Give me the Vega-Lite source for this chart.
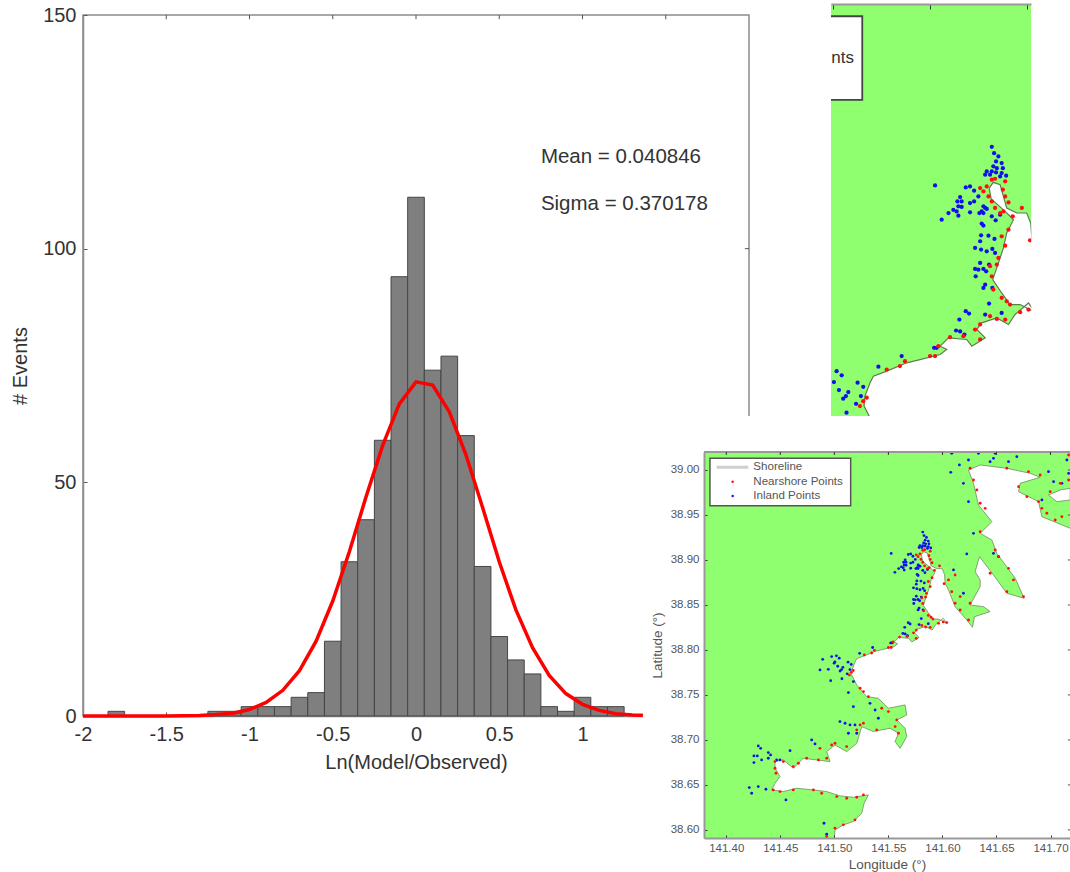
{
"$schema":"https://vega.github.io/schema/vega-lite/v6.json",
"autosize":{"type":"none"},
"padding":{"left":83,"top":15,"right":321,"bottom":156},
"width":666,"height":701,
"background":"white",
"config":{"view":{"stroke":"#8c8c8c","strokeWidth":1.5},"font":"Liberation Sans"},
"datasets":{
"bars":[
{"b0":-1.85,"b1":-1.75,"n":1},{"b0":-1.25,"b1":-1.15,"n":1},{"b0":-1.15,"b1":-1.05,"n":1},{"b0":-1.05,"b1":-0.95,"n":2},{"b0":-0.95,"b1":-0.85,"n":2},{"b0":-0.85,"b1":-0.75,"n":2},{"b0":-0.75,"b1":-0.65,"n":4},{"b0":-0.65,"b1":-0.55,"n":5},{"b0":-0.55,"b1":-0.45,"n":16},{"b0":-0.45,"b1":-0.35,"n":33},{"b0":-0.35,"b1":-0.25,"n":42},{"b0":-0.25,"b1":-0.15,"n":59},{"b0":-0.15,"b1":-0.05,"n":94},{"b0":-0.05,"b1":0.05,"n":111},{"b0":0.05,"b1":0.15,"n":74},{"b0":0.15,"b1":0.25,"n":77},{"b0":0.25,"b1":0.35,"n":60},{"b0":0.35,"b1":0.45,"n":32},{"b0":0.45,"b1":0.55,"n":17},{"b0":0.55,"b1":0.65,"n":12},{"b0":0.65,"b1":0.75,"n":9},{"b0":0.75,"b1":0.85,"n":2},{"b0":0.85,"b1":0.95,"n":1},{"b0":0.95,"b1":1.05,"n":4},{"b0":1.05,"b1":1.15,"n":2},{"b0":1.15,"b1":1.25,"n":2}
],
"curve":[
{"x":-2,"y":0},{"x":-1.5,"y":0},{"x":-1.3,"y":0.1},{"x":-1.2,"y":0.3},{"x":-1.1,"y":0.6},{"x":-1.0,"y":1.4},{"x":-0.9,"y":2.9},{"x":-0.8,"y":5.5},{"x":-0.7,"y":9.7},{"x":-0.6,"y":16},{"x":-0.5,"y":24.6},{"x":-0.4,"y":35.2},{"x":-0.3,"y":46.9},{"x":-0.2,"y":57.9},{"x":-0.1,"y":66.8},{"x":0,"y":71.5},{"x":0.1,"y":70.8},{"x":0.2,"y":65.1},{"x":0.3,"y":55.9},{"x":0.4,"y":44.6},{"x":0.5,"y":33},{"x":0.6,"y":22.7},{"x":0.7,"y":14.6},{"x":0.8,"y":8.7},{"x":0.9,"y":4.8},{"x":1.0,"y":2.5},{"x":1.1,"y":1.2},{"x":1.2,"y":0.5},{"x":1.3,"y":0.2},{"x":1.4,"y":0.1}
],
"notes":[{"x":0.75,"y":119.6,"t":"Mean = 0.040846"},{"x":0.75,"y":109.6,"t":"Sigma = 0.370178"}],
"frameTicksTop":[{"x":-1.5},{"x":-1},{"x":-0.5},{"x":0},{"x":0.5},{"x":1},{"x":1.5}],
"mapTicks":[{"lon":141.4},{"lon":141.45},{"lon":141.5},{"lon":141.55},{"lon":141.6},{"lon":141.65},{"lon":141.7}],
"mapTicksRight":[{"lat":38.6},{"lat":38.65},{"lat":38.7},{"lat":38.75},{"lat":38.8},{"lat":38.85},{"lat":38.9},{"lat":38.95},{"lat":39.0}],
"coast":[
{"r":"main","lon":141.5,"lat":38.5907},{"r":"main","lon":141.5006,"lat":38.6},{"r":"main","lon":141.5083,"lat":38.6056},{"r":"main","lon":141.5176,"lat":38.6093},{"r":"main","lon":141.5253,"lat":38.6185},{"r":"main","lon":141.5275,"lat":38.6296},{"r":"main","lon":141.5315,"lat":38.6389},{"r":"main","lon":141.5176,"lat":38.6363},{"r":"main","lon":141.5052,"lat":38.6378},{"r":"main","lon":141.4929,"lat":38.6426},{"r":"main","lon":141.4806,"lat":38.6444},{"r":"main","lon":141.4651,"lat":38.6463},{"r":"main","lon":141.4528,"lat":38.6426},{"r":"main","lon":141.442,"lat":38.6444},{"r":"main","lon":141.4451,"lat":38.6519},{"r":"main","lon":141.4497,"lat":38.6593},{"r":"main","lon":141.4451,"lat":38.6685},{"r":"main","lon":141.4451,"lat":38.6759},{"r":"main","lon":141.4528,"lat":38.6778},{"r":"main","lon":141.462,"lat":38.6685},{"r":"main","lon":141.4713,"lat":38.6796},{"r":"main","lon":141.4836,"lat":38.6778},{"r":"main","lon":141.496,"lat":38.6759},{"r":"main","lon":141.4929,"lat":38.687},{"r":"main","lon":141.5006,"lat":38.6944},{"r":"main","lon":141.5114,"lat":38.687},{"r":"main","lon":141.5207,"lat":38.6963},{"r":"main","lon":141.5253,"lat":38.7148},{"r":"main","lon":141.5361,"lat":38.7093},{"r":"main","lon":141.5515,"lat":38.713},{"r":"main","lon":141.5593,"lat":38.7074},{"r":"main","lon":141.5562,"lat":38.6981},{"r":"main","lon":141.5608,"lat":38.6907},{"r":"main","lon":141.567,"lat":38.7037},{"r":"main","lon":141.5654,"lat":38.713},{"r":"main","lon":141.5577,"lat":38.7222},{"r":"main","lon":141.567,"lat":38.7278},{"r":"main","lon":141.5654,"lat":38.7389},{"r":"main","lon":141.55,"lat":38.7352},{"r":"main","lon":141.5407,"lat":38.7463},{"r":"main","lon":141.5299,"lat":38.7481},{"r":"main","lon":141.5207,"lat":38.7611},{"r":"main","lon":141.516,"lat":38.7722},{"r":"main","lon":141.5165,"lat":38.7782},{"r":"main","lon":141.5191,"lat":38.7864},{"r":"main","lon":141.5208,"lat":38.7904},{"r":"main","lon":141.5277,"lat":38.7935},{"r":"main","lon":141.538,"lat":38.7986},{"r":"main","lon":141.5448,"lat":38.8006},{"r":"main","lon":141.5552,"lat":38.8037},{"r":"main","lon":141.5586,"lat":38.8068},{"r":"main","lon":141.5552,"lat":38.8088},{"r":"main","lon":141.5595,"lat":38.8139},{"r":"main","lon":141.5689,"lat":38.8129},{"r":"main","lon":141.5715,"lat":38.8088},{"r":"main","lon":141.5784,"lat":38.8139},{"r":"main","lon":141.5741,"lat":38.819},{"r":"main","lon":141.5766,"lat":38.8231},{"r":"main","lon":141.5844,"lat":38.8261},{"r":"main","lon":141.5904,"lat":38.8221},{"r":"main","lon":141.5938,"lat":38.8282},{"r":"main","lon":141.6007,"lat":38.8353},{"r":"main","lon":141.604,"lat":38.8296},{"r":"main","lon":141.5964,"lat":38.8343},{"r":"main","lon":141.5912,"lat":38.8343},{"r":"main","lon":141.5869,"lat":38.8414},{"r":"main","lon":141.5823,"lat":38.8496},{"r":"main","lon":141.5852,"lat":38.8598},{"r":"main","lon":141.5878,"lat":38.869},{"r":"main","lon":141.5895,"lat":38.8782},{"r":"main","lon":141.593,"lat":38.8863},{"r":"main","lon":141.5887,"lat":38.8914},{"r":"main","lon":141.5815,"lat":38.899},{"r":"main","lon":141.5805,"lat":38.9057},{"r":"main","lon":141.5826,"lat":38.9092},{"r":"main","lon":141.5861,"lat":38.9077},{"r":"main","lon":141.5878,"lat":38.9006},{"r":"main","lon":141.5895,"lat":38.8935},{"r":"main","lon":141.5947,"lat":38.8904},{"r":"main","lon":141.5998,"lat":38.8904},{"r":"main","lon":141.6019,"lat":38.8839},{"r":"main","lon":141.6025,"lat":38.8741},{"r":"main","lon":141.6056,"lat":38.8667},{"r":"main","lon":141.6117,"lat":38.8481},{"r":"main","lon":141.6225,"lat":38.8333},{"r":"main","lon":141.6278,"lat":38.8252},{"r":"main","lon":141.6296,"lat":38.837},{"r":"main","lon":141.6441,"lat":38.8426},{"r":"main","lon":141.638,"lat":38.8481},{"r":"main","lon":141.6256,"lat":38.85},{"r":"main","lon":141.6349,"lat":38.8704},{"r":"main","lon":141.6349,"lat":38.8778},{"r":"main","lon":141.6302,"lat":38.887},{"r":"main","lon":141.6343,"lat":38.9037},{"r":"main","lon":141.6472,"lat":38.8833},{"r":"main","lon":141.6596,"lat":38.863},{"r":"main","lon":141.6756,"lat":38.8574},{"r":"main","lon":141.6673,"lat":38.8796},{"r":"main","lon":141.6503,"lat":38.9074},{"r":"main","lon":141.6457,"lat":38.9222},{"r":"main","lon":141.6349,"lat":38.9296},{"r":"main","lon":141.6457,"lat":38.9426},{"r":"main","lon":141.6333,"lat":38.9611},{"r":"main","lon":141.6287,"lat":38.9852},{"r":"main","lon":141.6241,"lat":39.0},{"r":"main","lon":141.6349,"lat":39.0056},{"r":"main","lon":141.6596,"lat":39.0019},{"r":"main","lon":141.6812,"lat":38.9963},{"r":"main","lon":141.6904,"lat":38.9919},{"r":"main","lon":141.6719,"lat":38.9852},{"r":"main","lon":141.6704,"lat":38.9759},{"r":"main","lon":141.6889,"lat":38.9648},{"r":"main","lon":141.692,"lat":38.9481},{"r":"main","lon":141.7182,"lat":38.9352},
{"r":"main","lon":141.72,"lat":38.9352,"edge":1},{"r":"main","lon":141.72,"lat":38.59,"edge":1},{"r":"main","lon":141.5,"lat":38.59,"edge":1},{"r":"main","lon":141.5,"lat":38.5907,"edge":1},
{"r":"bay","lon":141.6981,"lat":38.9722},{"r":"bay","lon":141.709,"lat":38.9778},{"r":"bay","lon":141.7182,"lat":38.9796},{"r":"bay","lon":141.7182,"lat":38.9667},{"r":"bay","lon":141.7059,"lat":38.9648},{"r":"bay","lon":141.6981,"lat":38.9722}
],
"points":[
{"lon":141.5818,"lat":38.931,"k":"Inland"},{"lon":141.583,"lat":38.9271,"k":"Inland"},{"lon":141.5852,"lat":38.9251,"k":"Inland"},{"lon":141.584,"lat":38.922,"k":"Inland"},{"lon":141.5869,"lat":38.921,"k":"Inland"},{"lon":141.5826,"lat":38.919,"k":"Inland"},{"lon":141.5844,"lat":38.9179,"k":"Inland"},{"lon":141.5875,"lat":38.9179,"k":"Inland"},{"lon":141.5792,"lat":38.9159,"k":"Inland"},{"lon":141.5818,"lat":38.9159,"k":"Inland"},{"lon":141.584,"lat":38.9153,"k":"Inland"},{"lon":141.5869,"lat":38.9149,"k":"Inland"},{"lon":141.5892,"lat":38.9133,"k":"Inland"},{"lon":141.5784,"lat":38.9139,"k":"Inland"},{"lon":141.5809,"lat":38.9139,"k":"Inland"},{"lon":141.5861,"lat":38.9128,"k":"Inland"},{"lon":141.5526,"lat":38.9073,"k":"Inland"},{"lon":141.5684,"lat":38.9061,"k":"Inland"},{"lon":141.5706,"lat":38.9067,"k":"Inland"},{"lon":141.5727,"lat":38.9041,"k":"Inland"},{"lon":141.5749,"lat":38.9006,"k":"Inland"},{"lon":141.5655,"lat":38.9002,"k":"Inland"},{"lon":141.5641,"lat":38.8975,"k":"Inland"},{"lon":141.5663,"lat":38.8975,"k":"Inland"},{"lon":141.5727,"lat":38.8975,"k":"Inland"},{"lon":141.5706,"lat":38.8965,"k":"Inland"},{"lon":141.5646,"lat":38.8945,"k":"Inland"},{"lon":141.5663,"lat":38.8941,"k":"Inland"},{"lon":141.562,"lat":38.8924,"k":"Inland"},{"lon":141.5595,"lat":38.8904,"k":"Inland"},{"lon":141.5637,"lat":38.8914,"k":"Inland"},{"lon":141.5646,"lat":38.8888,"k":"Inland"},{"lon":141.556,"lat":38.8863,"k":"Inland"},{"lon":141.5706,"lat":38.8908,"k":"Inland"},{"lon":141.5775,"lat":38.8945,"k":"Inland"},{"lon":141.5784,"lat":38.8935,"k":"Inland"},{"lon":141.5766,"lat":38.8914,"k":"Inland"},{"lon":141.5754,"lat":38.8904,"k":"Inland"},{"lon":141.5775,"lat":38.8904,"k":"Inland"},{"lon":141.5792,"lat":38.8929,"k":"Inland"},{"lon":141.5818,"lat":38.8884,"k":"Inland"},{"lon":141.5861,"lat":38.8894,"k":"Inland"},{"lon":141.5838,"lat":38.8859,"k":"Inland"},{"lon":141.5766,"lat":38.8839,"k":"Inland"},{"lon":141.5775,"lat":38.8827,"k":"Inland"},{"lon":141.5763,"lat":38.8767,"k":"Inland"},{"lon":141.5801,"lat":38.8765,"k":"Inland"},{"lon":141.5832,"lat":38.8745,"k":"Inland"},{"lon":141.5758,"lat":38.8731,"k":"Inland"},{"lon":141.5732,"lat":38.869,"k":"Inland"},{"lon":141.5763,"lat":38.868,"k":"Inland"},{"lon":141.5792,"lat":38.8669,"k":"Inland"},{"lon":141.5821,"lat":38.8684,"k":"Inland"},{"lon":141.5835,"lat":38.8659,"k":"Inland"},{"lon":141.5758,"lat":38.8598,"k":"Inland"},{"lon":141.5804,"lat":38.8588,"k":"Inland"},{"lon":141.5775,"lat":38.8561,"k":"Inland"},{"lon":141.5732,"lat":38.8561,"k":"Inland"},{"lon":141.5749,"lat":38.8557,"k":"Inland"},{"lon":141.5789,"lat":38.8547,"k":"Inland"},{"lon":141.5735,"lat":38.8516,"k":"Inland"},{"lon":141.5784,"lat":38.8465,"k":"Inland"},{"lon":141.5775,"lat":38.8445,"k":"Inland"},{"lon":141.5821,"lat":38.8445,"k":"Inland"},{"lon":141.5804,"lat":38.8349,"k":"Inland"},{"lon":141.5684,"lat":38.8302,"k":"Inland"},{"lon":141.5701,"lat":38.8288,"k":"Inland"},{"lon":141.5784,"lat":38.8282,"k":"Inland"},{"lon":141.5869,"lat":38.8292,"k":"Inland"},{"lon":141.5651,"lat":38.8251,"k":"Inland"},{"lon":141.5634,"lat":38.8184,"k":"Inland"},{"lon":141.5655,"lat":38.8178,"k":"Inland"},{"lon":141.5677,"lat":38.8159,"k":"Inland"},{"lon":141.5534,"lat":38.8078,"k":"Inland"},{"lon":141.5521,"lat":38.8078,"k":"Inland"},{"lon":141.5354,"lat":38.8027,"k":"Inland"},{"lon":141.5234,"lat":38.7962,"k":"Inland"},{"lon":141.5019,"lat":38.7935,"k":"Inland"},{"lon":141.5045,"lat":38.7909,"k":"Inland"},{"lon":141.5005,"lat":38.7868,"k":"Inland"},{"lon":141.4998,"lat":38.7853,"k":"Inland"},{"lon":141.5127,"lat":38.7864,"k":"Inland"},{"lon":141.5156,"lat":38.7839,"k":"Inland"},{"lon":141.5031,"lat":38.7819,"k":"Inland"},{"lon":141.5079,"lat":38.7807,"k":"Inland"},{"lon":141.5067,"lat":38.7782,"k":"Inland"},{"lon":141.5053,"lat":38.7766,"k":"Inland"},{"lon":141.5144,"lat":38.7782,"k":"Inland"},{"lon":141.5119,"lat":38.7735,"k":"Inland"},{"lon":141.507,"lat":38.768,"k":"Inland"},
{"lon":141.6086,"lat":39.0185,"k":"Inland"},{"lon":141.6333,"lat":39.0185,"k":"Inland"},{"lon":141.6488,"lat":39.0185,"k":"Inland"},{"lon":141.6472,"lat":39.013,"k":"Inland"},{"lon":141.6441,"lat":39.0093,"k":"Inland"},{"lon":141.6611,"lat":39.0093,"k":"Inland"},{"lon":141.6688,"lat":39.0148,"k":"Inland"},{"lon":141.6157,"lat":39.0056,"k":"Inland"},{"lon":141.6241,"lat":39.0111,"k":"Inland"},{"lon":141.6077,"lat":38.9974,"k":"Inland"},{"lon":141.6194,"lat":38.9852,"k":"Inland"},{"lon":141.6241,"lat":38.9648,"k":"Inland"},{"lon":141.692,"lat":38.9667,"k":"Inland"},{"lon":141.6981,"lat":38.9981,"k":"Inland"},{"lon":141.7028,"lat":38.987,"k":"Inland"},{"lon":141.7151,"lat":39.0111,"k":"Inland"},{"lon":141.7167,"lat":38.9963,"k":"Inland"},{"lon":141.7105,"lat":38.9852,"k":"Inland"},{"lon":141.6287,"lat":38.9296,"k":"Inland"},{"lon":141.6225,"lat":38.9067,"k":"Inland"},{"lon":141.6472,"lat":38.9074,"k":"Inland"},{"lon":141.6519,"lat":38.9037,"k":"Inland"},{"lon":141.6194,"lat":38.863,"k":"Inland"},{"lon":141.6102,"lat":38.8889,"k":"Inland"},
{"lon":141.4892,"lat":38.7896,"k":"Inland"},{"lon":141.4867,"lat":38.7778,"k":"Inland"},{"lon":141.4975,"lat":38.7926,"k":"Inland"},{"lon":141.4944,"lat":38.7785,"k":"Inland"},{"lon":141.4966,"lat":38.7659,"k":"Inland"},{"lon":141.5176,"lat":38.7648,"k":"Inland"},{"lon":141.513,"lat":38.7526,"k":"Inland"},{"lon":141.5176,"lat":38.737,"k":"Inland"},{"lon":141.533,"lat":38.7407,"k":"Inland"},{"lon":141.5377,"lat":38.7333,"k":"Inland"},{"lon":141.5407,"lat":38.7241,"k":"Inland"},{"lon":141.5052,"lat":38.7204,"k":"Inland"},{"lon":141.5099,"lat":38.7185,"k":"Inland"},{"lon":141.5145,"lat":38.7167,"k":"Inland"},{"lon":141.5191,"lat":38.7167,"k":"Inland"},{"lon":141.513,"lat":38.7074,"k":"Inland"},{"lon":141.5207,"lat":38.7074,"k":"Inland"},{"lon":141.479,"lat":38.7,"k":"Inland"},{"lon":141.4821,"lat":38.6956,"k":"Inland"},{"lon":141.459,"lat":38.6881,"k":"Inland"},{"lon":141.4296,"lat":38.6933,"k":"Inland"},{"lon":141.4318,"lat":38.6907,"k":"Inland"},{"lon":141.4256,"lat":38.6822,"k":"Inland"},{"lon":141.4287,"lat":38.6822,"k":"Inland"},{"lon":141.4327,"lat":38.6778,"k":"Inland"},{"lon":141.4389,"lat":38.6859,"k":"Inland"},{"lon":141.441,"lat":38.6833,"k":"Inland"},{"lon":141.4256,"lat":38.6748,"k":"Inland"},{"lon":141.4389,"lat":38.6796,"k":"Inland"},{"lon":141.4466,"lat":38.6778,"k":"Inland"},{"lon":141.4497,"lat":38.6778,"k":"Inland"},{"lon":141.4213,"lat":38.647,"k":"Inland"},{"lon":141.4296,"lat":38.6481,"k":"Inland"},{"lon":141.4367,"lat":38.6452,"k":"Inland"},{"lon":141.4235,"lat":38.6407,"k":"Inland"},{"lon":141.4552,"lat":38.6333,"k":"Inland"},{"lon":141.4904,"lat":38.6074,"k":"Inland"},{"lon":141.4929,"lat":38.5952,"k":"Inland"},
{"lon":141.5818,"lat":38.9108,"k":"Nearshore"},{"lon":141.5835,"lat":38.9114,"k":"Nearshore"},{"lon":141.5792,"lat":38.9067,"k":"Nearshore"},{"lon":141.5758,"lat":38.9057,"k":"Nearshore"},{"lon":141.5775,"lat":38.9037,"k":"Nearshore"},{"lon":141.5801,"lat":38.9006,"k":"Nearshore"},{"lon":141.5818,"lat":38.8975,"k":"Nearshore"},{"lon":141.5835,"lat":38.8935,"k":"Nearshore"},{"lon":141.5878,"lat":38.8914,"k":"Nearshore"},{"lon":141.5861,"lat":38.8904,"k":"Nearshore"},{"lon":141.5904,"lat":38.8969,"k":"Nearshore"},{"lon":141.5887,"lat":38.9006,"k":"Nearshore"},{"lon":141.5875,"lat":38.9047,"k":"Nearshore"},{"lon":141.5887,"lat":38.9098,"k":"Nearshore"},{"lon":141.5973,"lat":38.8935,"k":"Nearshore"},{"lon":141.5926,"lat":38.8884,"k":"Nearshore"},{"lon":141.5904,"lat":38.8802,"k":"Nearshore"},{"lon":141.5869,"lat":38.8761,"k":"Nearshore"},{"lon":141.5887,"lat":38.8704,"k":"Nearshore"},{"lon":141.5852,"lat":38.8629,"k":"Nearshore"},{"lon":141.5844,"lat":38.8588,"k":"Nearshore"},{"lon":141.5809,"lat":38.8578,"k":"Nearshore"},{"lon":141.5818,"lat":38.8516,"k":"Nearshore"},{"lon":141.5826,"lat":38.8435,"k":"Nearshore"},{"lon":141.5869,"lat":38.8384,"k":"Nearshore"},{"lon":141.5895,"lat":38.8363,"k":"Nearshore"},{"lon":141.5912,"lat":38.8343,"k":"Nearshore"},{"lon":141.5964,"lat":38.8296,"k":"Nearshore"},{"lon":141.6007,"lat":38.8312,"k":"Nearshore"},{"lon":141.6015,"lat":38.8737,"k":"Nearshore"},{"lon":141.5809,"lat":38.8272,"k":"Nearshore"},{"lon":141.5844,"lat":38.8255,"k":"Nearshore"},{"lon":141.5887,"lat":38.8251,"k":"Nearshore"},{"lon":141.5758,"lat":38.8221,"k":"Nearshore"},{"lon":141.5732,"lat":38.819,"k":"Nearshore"},{"lon":141.5758,"lat":38.8129,"k":"Nearshore"},{"lon":141.5672,"lat":38.8149,"k":"Nearshore"},{"lon":141.5603,"lat":38.8143,"k":"Nearshore"},{"lon":141.5543,"lat":38.8088,"k":"Nearshore"},{"lon":141.55,"lat":38.8027,"k":"Nearshore"},{"lon":141.5526,"lat":38.8027,"k":"Nearshore"},{"lon":141.5371,"lat":38.7996,"k":"Nearshore"},{"lon":141.5345,"lat":38.7966,"k":"Nearshore"},{"lon":141.5277,"lat":38.7945,"k":"Nearshore"},{"lon":141.5174,"lat":38.7772,"k":"Nearshore"},{"lon":141.5156,"lat":38.7751,"k":"Nearshore"},{"lon":141.5139,"lat":38.7721,"k":"Nearshore"},
{"lon":141.6256,"lat":39.0019,"k":"Nearshore"},{"lon":141.6287,"lat":38.9889,"k":"Nearshore"},{"lon":141.6318,"lat":38.9778,"k":"Nearshore"},{"lon":141.6349,"lat":38.963,"k":"Nearshore"},{"lon":141.6395,"lat":38.9574,"k":"Nearshore"},{"lon":141.6349,"lat":38.9315,"k":"Nearshore"},{"lon":141.6488,"lat":38.9111,"k":"Nearshore"},{"lon":141.6519,"lat":38.9037,"k":"Nearshore"},{"lon":141.6611,"lat":38.8907,"k":"Nearshore"},{"lon":141.6657,"lat":38.8778,"k":"Nearshore"},{"lon":141.6596,"lat":38.8648,"k":"Nearshore"},{"lon":141.675,"lat":38.8593,"k":"Nearshore"},{"lon":141.6441,"lat":38.8852,"k":"Nearshore"},{"lon":141.6596,"lat":39.0019,"k":"Nearshore"},{"lon":141.6796,"lat":38.9981,"k":"Nearshore"},{"lon":141.6904,"lat":38.9944,"k":"Nearshore"},{"lon":141.6704,"lat":38.9815,"k":"Nearshore"},{"lon":141.6781,"lat":38.9704,"k":"Nearshore"},{"lon":141.6889,"lat":38.9648,"k":"Nearshore"},{"lon":141.6966,"lat":38.9519,"k":"Nearshore"},{"lon":141.7043,"lat":38.9444,"k":"Nearshore"},{"lon":141.7105,"lat":38.9481,"k":"Nearshore"},{"lon":141.6997,"lat":38.9759,"k":"Nearshore"},{"lon":141.709,"lat":38.9852,"k":"Nearshore"},{"lon":141.7167,"lat":38.9889,"k":"Nearshore"},{"lon":141.7167,"lat":39.0167,"k":"Nearshore"},{"lon":141.692,"lat":38.9574,"k":"Nearshore"},{"lon":141.6117,"lat":38.8833,"k":"Nearshore"},{"lon":141.6056,"lat":38.8778,"k":"Nearshore"},{"lon":141.6086,"lat":38.8648,"k":"Nearshore"},{"lon":141.6164,"lat":38.8593,"k":"Nearshore"},{"lon":141.6117,"lat":38.8519,"k":"Nearshore"},{"lon":141.6164,"lat":38.8444,"k":"Nearshore"},{"lon":141.6256,"lat":38.8519,"k":"Nearshore"},{"lon":141.6241,"lat":38.8333,"k":"Nearshore"},{"lon":141.604,"lat":38.8304,"k":"Nearshore"},
{"lon":141.5238,"lat":38.7574,"k":"Nearshore"},{"lon":141.5269,"lat":38.7537,"k":"Nearshore"},{"lon":141.5315,"lat":38.7481,"k":"Nearshore"},{"lon":141.5438,"lat":38.7352,"k":"Nearshore"},{"lon":141.55,"lat":38.7315,"k":"Nearshore"},{"lon":141.5577,"lat":38.7222,"k":"Nearshore"},{"lon":141.5593,"lat":38.7074,"k":"Nearshore"},{"lon":141.5562,"lat":38.7148,"k":"Nearshore"},{"lon":141.5238,"lat":38.7167,"k":"Nearshore"},{"lon":141.5269,"lat":38.7185,"k":"Nearshore"},{"lon":141.5207,"lat":38.7111,"k":"Nearshore"},{"lon":141.5392,"lat":38.7111,"k":"Nearshore"},{"lon":141.5114,"lat":38.6926,"k":"Nearshore"},{"lon":141.5006,"lat":38.6963,"k":"Nearshore"},{"lon":141.4975,"lat":38.6944,"k":"Nearshore"},{"lon":141.4867,"lat":38.6907,"k":"Nearshore"},{"lon":141.4929,"lat":38.6796,"k":"Nearshore"},{"lon":141.4852,"lat":38.6778,"k":"Nearshore"},{"lon":141.4744,"lat":38.6796,"k":"Nearshore"},{"lon":141.4667,"lat":38.6741,"k":"Nearshore"},{"lon":141.462,"lat":38.6704,"k":"Nearshore"},{"lon":141.4528,"lat":38.6759,"k":"Nearshore"},{"lon":141.4451,"lat":38.6759,"k":"Nearshore"},{"lon":141.4451,"lat":38.6685,"k":"Nearshore"},{"lon":141.446,"lat":38.663,"k":"Nearshore"},{"lon":141.4435,"lat":38.6444,"k":"Nearshore"},{"lon":141.4497,"lat":38.6426,"k":"Nearshore"},{"lon":141.462,"lat":38.6444,"k":"Nearshore"},{"lon":141.4806,"lat":38.6444,"k":"Nearshore"},{"lon":141.4883,"lat":38.6407,"k":"Nearshore"},{"lon":141.5022,"lat":38.637,"k":"Nearshore"},{"lon":141.5114,"lat":38.6352,"k":"Nearshore"},{"lon":141.5207,"lat":38.6363,"k":"Nearshore"},{"lon":141.5269,"lat":38.6389,"k":"Nearshore"},{"lon":141.5191,"lat":38.6111,"k":"Nearshore"},{"lon":141.5083,"lat":38.6056,"k":"Nearshore"},{"lon":141.5006,"lat":38.6019,"k":"Nearshore"},{"lon":141.4929,"lat":38.5926,"k":"Nearshore"}
]
},
"layer":[
{
"layer":[
{"data":{"name":"bars"},"mark":{"type":"rect","fill":"#7f7f7f","stroke":"#454545","strokeWidth":1},
"encoding":{
"x":{"field":"b0","type":"quantitative","scale":{"domain":[-2,2],"nice":false,"zero":false},
"axis":{"title":"Ln(Model/Observed)","titleFontSize":20,"titleFontWeight":"normal","titleColor":"#333","titlePadding":8,"values":[-2,-1.5,-1,-0.5,0,0.5,1],"labelExpr":"toString(datum.value)","labelFontSize":20,"labelColor":"#333","labelPadding":12,"tickSize":-4,"tickColor":"#555","domainColor":"#8c8c8c","domainWidth":1.5,"grid":false,"labelFlush":false,"labelOverlap":false}},
"x2":{"field":"b1"},
"y":{"field":"n","type":"quantitative","scale":{"domain":[0,150],"nice":false,"zero":false},
"axis":{"title":"# Events","titleFontSize":20,"titleFontWeight":"normal","titleColor":"#333","titlePadding":12,"values":[0,50,100,150],"labelFontSize":20,"labelColor":"#333","labelPadding":11,"tickSize":-4,"tickColor":"#555","domainColor":"#8c8c8c","domainWidth":1.5,"grid":false,"labelOverlap":false}},
"y2":{"datum":0}}},
{"data":{"name":"frameTicksTop"},"mark":{"type":"rule","color":"#555","strokeWidth":1},
"encoding":{"x":{"field":"x","type":"quantitative"},"y":{"datum":150},"y2":{"datum":149.1}}},
{"data":{"values":[{"a":1.975,"b":2,"c":100}]},"mark":{"type":"rule","color":"#555","strokeWidth":1},
"encoding":{"x":{"field":"a","type":"quantitative"},"x2":{"field":"b"},"y":{"field":"c","type":"quantitative"}}},
{"data":{"name":"curve"},"mark":{"type":"line","color":"#ff0000","strokeWidth":3.5},
"encoding":{"x":{"field":"x","type":"quantitative"},"y":{"field":"y","type":"quantitative"}}},
{"data":{"name":"notes"},"mark":{"type":"text","align":"left","baseline":"middle","fontSize":20.5,"color":"#333"},
"encoding":{"x":{"field":"x","type":"quantitative"},"y":{"field":"y","type":"quantitative"},"text":{"field":"t"}}}
]},
{
"layer":[
{"data":{"values":[{"a":141.499,"b":141.602,"c":38.766,"d":39.0185}]},"mark":{"type":"rect","fill":"#8fff70"},
"encoding":{
"x":{"field":"a","type":"quantitative","scale":{"domain":[141.499,141.602],"range":[748,948],"nice":false,"zero":false},
"axis":{"orient":"top","offset":11,"zindex":1,"labels":false,"title":null,"values":[141.5,141.55,141.6],"tickSize":-5,"tickColor":"#333","domainColor":"#999","domainWidth":2,"grid":false}},
"x2":{"field":"b"},
"y":{"field":"c","type":"quantitative","scale":{"domain":[38.766,39.0185],"range":[401,-11],"nice":false,"zero":false},"axis":null},
"y2":{"field":"d"}}},
{"data":{"name":"coast"},"mark":{"type":"area","color":"#ffffff","order":false},
"encoding":{"x":{"field":"lon","type":"quantitative"},"y":{"field":"lat","type":"quantitative","axis":null},"y2":{"datum":38.59},"detail":{"field":"r"}}},
{"data":{"name":"coast"},"transform":[{"filter":"!datum.edge"}],"mark":{"type":"line","color":"#5d7d50","strokeWidth":1.2,"order":false},
"encoding":{"x":{"field":"lon","type":"quantitative"},"y":{"field":"lat","type":"quantitative","axis":null},"detail":{"field":"r"}}},
{"data":{"name":"points"},"transform":[{"filter":"datum.lon>=141.5 && datum.lon<=141.602 && datum.lat>=38.766"}],"mark":{"type":"circle","size":18,"opacity":1},
"encoding":{"x":{"field":"lon","type":"quantitative"},"y":{"field":"lat","type":"quantitative","axis":null},
"color":{"field":"k","type":"nominal","scale":{"domain":["Nearshore","Inland"],"range":["#ff1010","#1010ee"]},"legend":null}}},
{"data":{"values":[{"a":141.497,"b":141.5151,"c":38.9598,"d":39.011}]},"mark":{"type":"rect","fill":"white","stroke":"#444","strokeWidth":1.8},
"encoding":{"x":{"field":"a","type":"quantitative"},"x2":{"field":"b"},"y":{"field":"c","type":"quantitative","axis":null},"y2":{"field":"d"}}},
{"data":{"values":[{"lon":141.5108,"lat":38.9853,"t":"nts"}]},"mark":{"type":"text","align":"right","baseline":"middle","fontSize":17,"color":"#333"},
"encoding":{"x":{"field":"lon","type":"quantitative"},"y":{"field":"lat","type":"quantitative","axis":null},"text":{"field":"t"}}}
]},
{"data":{"values":[{"a":1.363,"b":3.93,"c":64.2,"d":-34},{"a":3.6955,"b":3.93,"c":154,"d":64.2},{"a":2.012,"b":2.4925,"c":154,"d":64.2}]},
"mark":{"type":"rect","fill":"white"},
"encoding":{"x":{"field":"a","type":"quantitative","scale":{"domain":[-2,2],"nice":false,"zero":false},"axis":null},"x2":{"field":"b"},
"y":{"field":"c","type":"quantitative","scale":{"domain":[0,150],"nice":false,"zero":false},"axis":null},"y2":{"field":"d"}}},
{
"layer":[
{"data":{"values":[{"a":141.3794,"b":141.72,"c":38.591,"d":39.02}]},"mark":{"type":"rect","fill":"#8fff70"},
"encoding":{
"x":{"field":"a","type":"quantitative","scale":{"domain":[141.3794,141.718],"range":[621,987],"nice":false,"zero":false},
"axis":{"orient":"bottom","offset":122,"zindex":1,"title":"Longitude (°)","titleFontSize":13.5,"titleFontWeight":"normal","titleColor":"#555","titlePadding":4,"values":[141.4,141.45,141.5,141.55,141.6,141.65,141.7],"format":".2f","labelFontSize":11.5,"labelColor":"#555","labelPadding":7,"tickSize":-3,"tickColor":"#333","domainColor":"#999","domainWidth":2,"grid":false,"labelFlush":false,"labelOverlap":false}},
"x2":{"field":"b"},
"y":{"field":"c","type":"quantitative","scale":{"domain":[38.591,39.02],"range":[823,437],"nice":false,"zero":false},
"axis":{"orient":"left","offset":-621,"zindex":1,"title":"Latitude (°)","titleFontSize":13.5,"titleFontWeight":"normal","titleColor":"#555","titlePadding":6,"values":[38.6,38.65,38.7,38.75,38.8,38.85,38.9,38.95,39.0],"format":".2f","labelFontSize":11.5,"labelColor":"#555","labelPadding":8,"tickSize":-3,"tickColor":"#333","domainColor":"#999","domainWidth":2,"grid":false,"labelOverlap":false}},
"y2":{"field":"d"}}},
{"data":{"name":"coast"},"mark":{"type":"area","color":"#ffffff","order":false},
"encoding":{"x":{"field":"lon","type":"quantitative"},"y":{"field":"lat","type":"quantitative"},"y2":{"datum":38.59},"detail":{"field":"r"}}},
{"data":{"name":"coast"},"transform":[{"filter":"!datum.edge"}],"mark":{"type":"line","color":"#6d8d60","strokeWidth":0.8,"order":false},
"encoding":{"x":{"field":"lon","type":"quantitative"},"y":{"field":"lat","type":"quantitative"},"detail":{"field":"r"}}},
{"data":{"name":"points"},"mark":{"type":"circle","size":8,"opacity":1},
"encoding":{"x":{"field":"lon","type":"quantitative"},"y":{"field":"lat","type":"quantitative"},
"color":{"field":"k","type":"nominal","legend":null}}},
{"data":{"values":[{"a":141.3794,"b":141.72,"c":39.02}]},"mark":{"type":"rule","color":"#999","strokeWidth":2},
"encoding":{"x":{"field":"a","type":"quantitative"},"x2":{"field":"b"},"y":{"field":"c","type":"quantitative"}}},
{"data":{"name":"mapTicks"},"mark":{"type":"rule","color":"#333","strokeWidth":1},
"encoding":{"x":{"field":"lon","type":"quantitative"},"y":{"datum":39.02},"y2":{"datum":39.0167}}},
{"data":{"name":"mapTicksRight"},"mark":{"type":"rule","color":"#555","strokeWidth":1},
"encoding":{"x":{"datum":141.716},"x2":{"datum":141.72},"y":{"field":"lat","type":"quantitative"}}},
{"data":{"values":[{"a":141.3849,"b":141.5151,"c":38.9604,"d":39.013}]},"mark":{"type":"rect","fill":"white","stroke":"#555","strokeWidth":1.5},
"encoding":{"x":{"field":"a","type":"quantitative"},"x2":{"field":"b"},"y":{"field":"c","type":"quantitative"},"y2":{"field":"d"}}},
{"data":{"values":[{"a":141.3911,"b":141.4204,"c":39.003}]},"mark":{"type":"rule","color":"#cfcfcf","strokeWidth":3},
"encoding":{"x":{"field":"a","type":"quantitative"},"x2":{"field":"b"},"y":{"field":"c","type":"quantitative"}}},
{"data":{"values":[{"lon":141.4059,"lat":38.987,"k":"Nearshore"},{"lon":141.4059,"lat":38.971,"k":"Inland"}]},"mark":{"type":"circle","size":6,"opacity":1},
"encoding":{"x":{"field":"lon","type":"quantitative"},"y":{"field":"lat","type":"quantitative"},"color":{"field":"k","type":"nominal","legend":null}}},
{"data":{"values":[{"lon":141.425,"lat":39.003,"t":"Shoreline"},{"lon":141.425,"lat":38.987,"t":"Nearshore Points"},{"lon":141.425,"lat":38.971,"t":"Inland Points"}]},"mark":{"type":"text","align":"left","baseline":"middle","fontSize":11.6,"color":"#555"},
"encoding":{"x":{"field":"lon","type":"quantitative"},"y":{"field":"lat","type":"quantitative"},"text":{"field":"t"}}}
]}
],
"resolve":{"scale":{"x":"independent","y":"independent"},"axis":{"x":"independent","y":"independent"}}
}
